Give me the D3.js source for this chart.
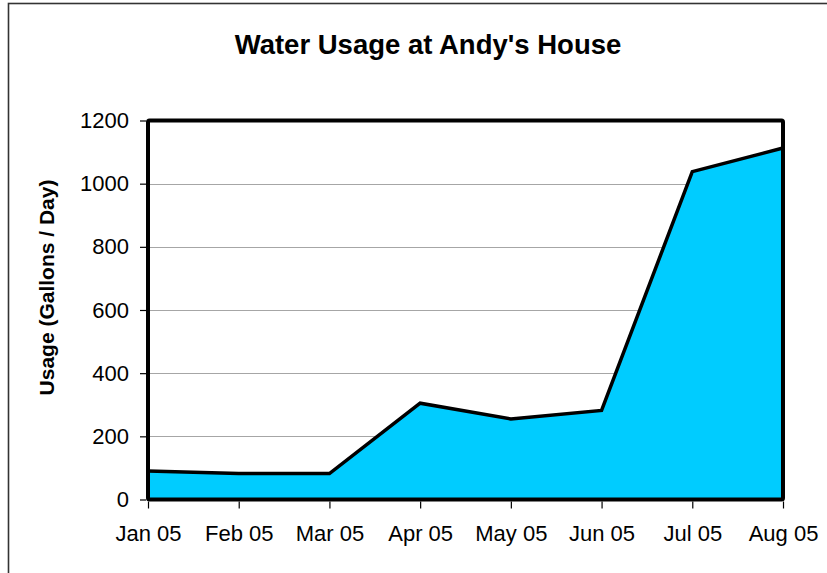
<!DOCTYPE html>
<html>
<head>
<meta charset="utf-8">
<script src="https://cdn.jsdelivr.net/npm/d3@7"></script>
<style>
  html, body { margin: 0; padding: 0; background: #fff; }
  svg { display: block; font-family: Arial, "Liberation Sans", sans-serif; }
</style>
</head>
<body>
<svg id="chart" width="827" height="573"></svg>
<script>
// Monthly water usage, gallons per day
const months = ["Jan 05", "Feb 05", "Mar 05", "Apr 05", "May 05", "Jun 05", "Jul 05", "Aug 05"];
const usage = [90, 82, 82, 305, 255, 282, 1038, 1113];
const yTicks = [0, 200, 400, 600, 800, 1000, 1200];

const svg = d3.select("#chart");
const W = 827, H = 573;
const plot = { left: 148, right: 783, top: 120.5, bottom: 499.5 };
const FONT = "Arial, 'Liberation Sans', sans-serif";

// outer chart frame (runs off the right and bottom edges)
svg.append("rect")
  .attr("x", 8.5).attr("y", 3.5)
  .attr("width", W + 20).attr("height", H + 20)
  .attr("fill", "#fff")
  .attr("stroke", "#333").attr("stroke-width", 1.6);

const x = d3.scalePoint().domain(months).range([plot.left, plot.right]);
const y = d3.scaleLinear().domain([0, 1200]).range([plot.bottom, plot.top]);

// horizontal gridlines
svg.append("g").selectAll("line")
  .data(yTicks.filter(d => d > 0 && d < 1200))
  .join("line")
  .attr("x1", plot.left).attr("x2", plot.right)
  .attr("y1", d => Math.round(y(d)) + 0.5).attr("y2", d => Math.round(y(d)) + 0.5)
  .attr("stroke", "#a6a6a6").attr("stroke-width", 1);

// filled area with black outline
const area = d3.area()
  .x((d, i) => x(months[i]))
  .y0(y(0))
  .y1(d => y(d));
svg.append("path")
  .datum(usage)
  .attr("d", area)
  .attr("fill", "#00ccff");

const line = d3.line()
  .x((d, i) => x(months[i]))
  .y(d => y(d));
svg.append("path")
  .datum(usage)
  .attr("d", line)
  .attr("fill", "none")
  .attr("stroke", "#000")
  .attr("stroke-width", 3.5)
  .attr("stroke-linejoin", "miter");

// plot area border
svg.append("rect")
  .attr("x", plot.left).attr("y", plot.top)
  .attr("width", plot.right - plot.left).attr("height", plot.bottom - plot.top)
  .attr("fill", "none")
  .attr("stroke", "#000").attr("stroke-width", 4)
  .attr("rx", 1.5);

// y axis
const yAxis = d3.axisLeft(y).tickValues(yTicks).tickFormat(d3.format("d"))
  .tickSize(6).tickPadding(11);
const gy = svg.append("g")
  .attr("transform", `translate(${plot.left - 2},0)`)
  .call(yAxis);
gy.select(".domain").remove();
gy.selectAll(".tick line").attr("stroke", "#000").attr("stroke-width", 1.2);
gy.attr("font-family", FONT).attr("font-size", 22);
gy.selectAll(".tick text").attr("fill", "#000");

// x axis
const xAxis = d3.axisBottom(x).tickSize(7).tickPadding(17);
const gx = svg.append("g")
  .attr("transform", `translate(0,${plot.bottom + 2})`)
  .call(xAxis);
gx.select(".domain").remove();
gx.selectAll(".tick line").attr("stroke", "#000").attr("stroke-width", 1.2);
gx.attr("font-family", FONT).attr("font-size", 22);
gx.selectAll(".tick text").attr("fill", "#000");

// title
svg.append("text")
  .attr("x", 428).attr("y", 54)
  .attr("text-anchor", "middle")
  .attr("font-family", FONT)
  .attr("font-size", 27.5).attr("font-weight", "bold")
  .text("Water Usage at Andy's House");

// y axis title
svg.append("text")
  .attr("transform", `translate(54,${(plot.top + plot.bottom) / 2 - 22.5}) rotate(-90)`)
  .attr("text-anchor", "middle")
  .attr("font-family", FONT)
  .attr("font-size", 21).attr("font-weight", "bold")
  .text("Usage (Gallons / Day)");
</script>
</body>
</html>
